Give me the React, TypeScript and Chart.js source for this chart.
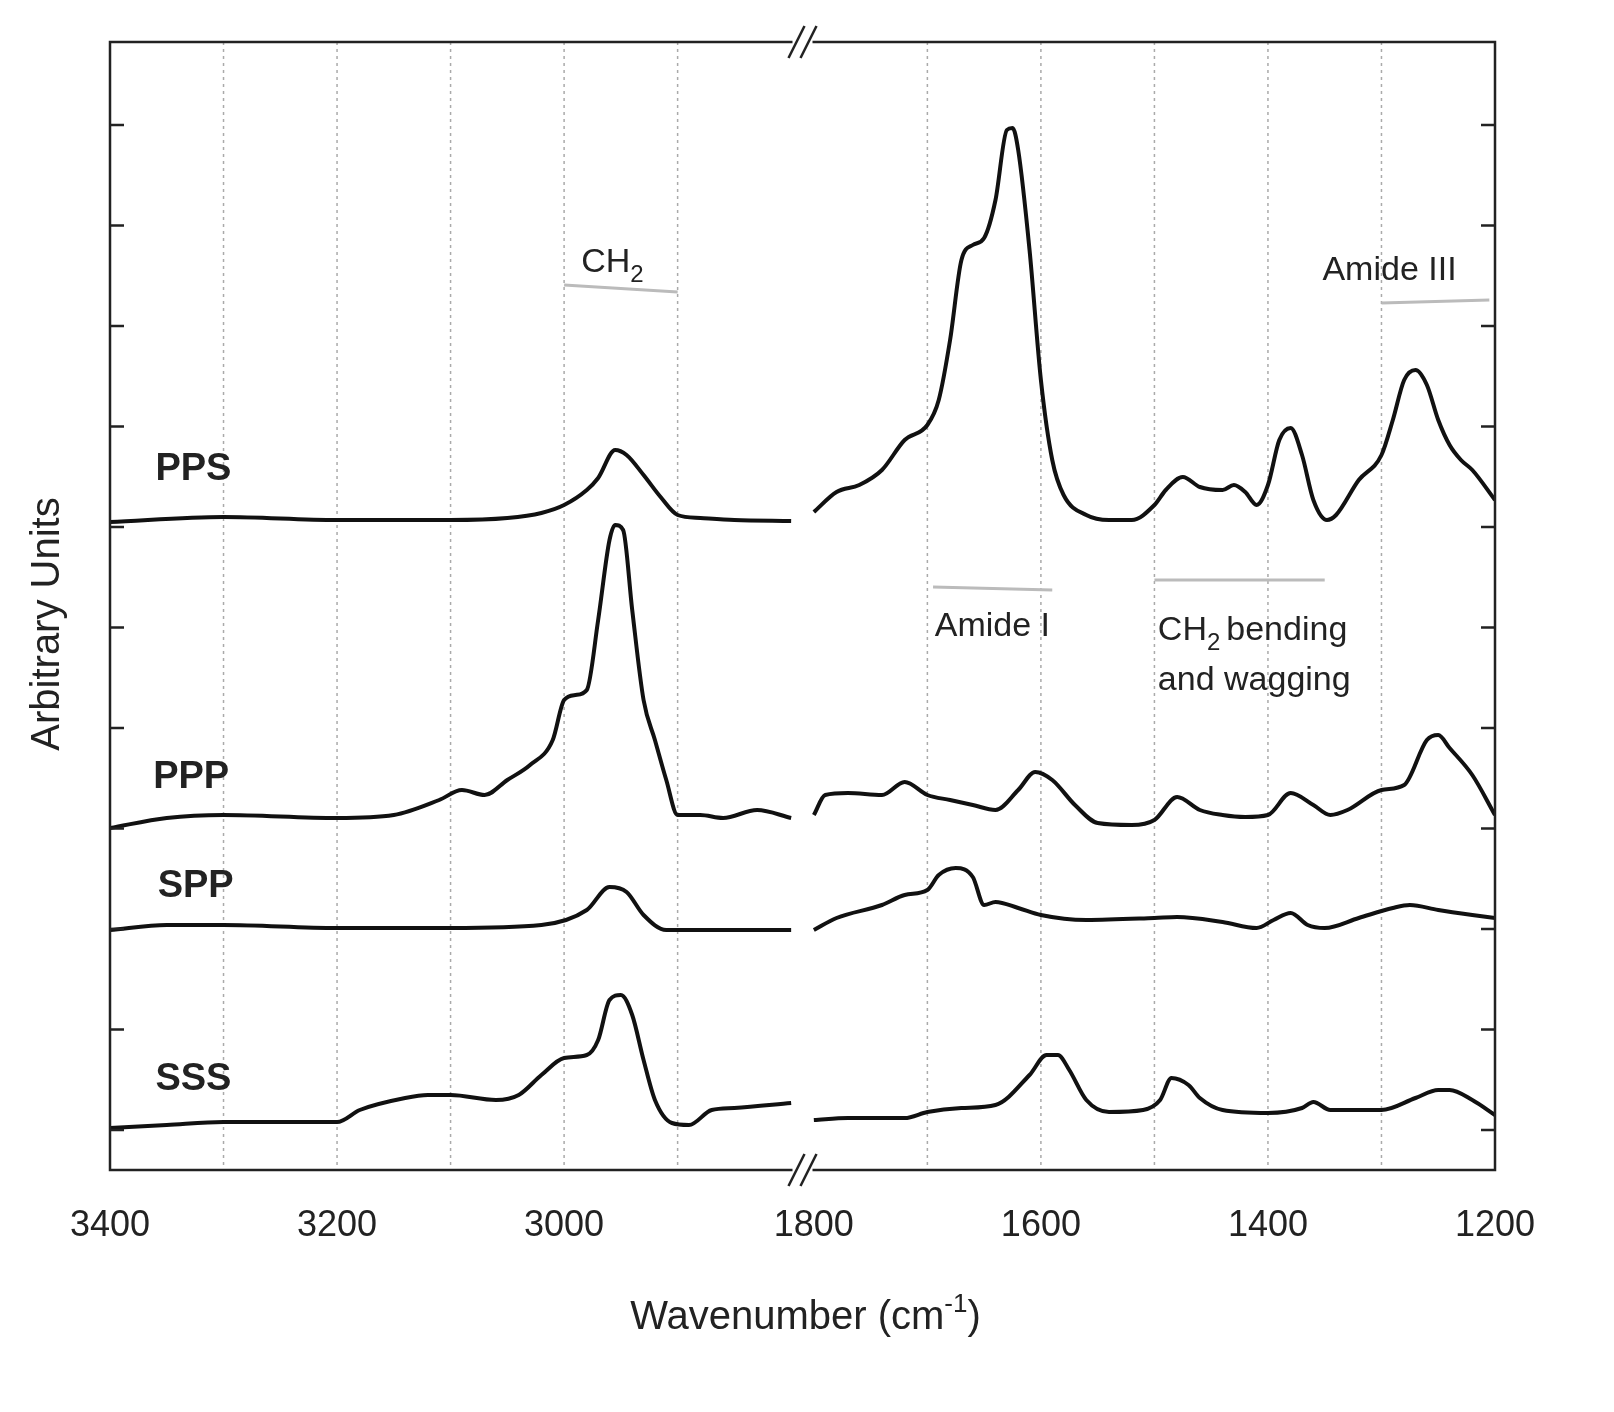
import React, { useEffect, useRef } from "react";
import { Chart, registerables } from "chart.js";
Chart.register(...registerables);

// wavenumbers (cm-1) and intensities (arbitrary units, offset traces)
const ppsLeftX = [3400,3300,3200,3100,3050,3020,3000,2980,2970,2955,2945,2930,2915,2900,2880,2850,2800];
const ppsLeftY = [522,517,520,520,518,513,505,490,478,450,455,475,497,515,518,520,521];
const ppsRightX = [1800,1780,1760,1740,1720,1700,1690,1680,1670,1660,1650,1640,1630,1625,1620,1610,1600,1590,1580,1560,1540,1520,1500,1490,1475,1460,1440,1430,1420,1410,1400,1390,1380,1370,1360,1348,1340,1320,1300,1290,1280,1270,1260,1250,1240,1230,1220,1200];
const ppsRightY = [512,492,485,470,440,425,400,340,260,245,238,200,130,128,150,250,380,460,495,515,520,520,505,490,477,487,490,485,492,505,485,440,428,455,500,520,515,480,455,420,380,370,385,420,445,460,470,500];
const pppLeftX = [3400,3350,3300,3200,3150,3110,3090,3070,3050,3030,3010,3000,2990,2980,2970,2960,2955,2948,2940,2930,2920,2910,2900,2880,2860,2830,2800];
const pppLeftY = [828,818,815,818,815,800,790,795,780,765,740,700,695,690,620,540,525,530,610,700,740,780,815,815,818,810,818];
const pppRightX = [1800,1790,1770,1740,1720,1700,1680,1660,1640,1620,1605,1590,1570,1550,1520,1500,1480,1460,1440,1420,1400,1380,1360,1345,1330,1300,1280,1260,1250,1240,1220,1200];
const pppRightY = [815,795,793,795,782,795,800,805,810,790,772,780,805,823,825,820,797,810,815,817,815,793,805,815,810,790,785,740,735,748,775,815];
const sppLeftX = [3400,3350,3300,3200,3100,3020,2980,2960,2945,2930,2910,2850,2800];
const sppLeftY = [930,925,925,928,928,925,910,887,892,915,930,930,930];
const sppRightX = [1800,1780,1740,1720,1700,1690,1675,1660,1650,1640,1620,1600,1560,1500,1480,1440,1410,1395,1380,1365,1350,1320,1290,1275,1250,1220,1200];
const sppRightY = [930,918,905,895,890,875,868,877,905,902,908,915,920,918,917,922,928,920,913,925,928,918,908,905,910,915,918];
const sssLeftX = [3400,3350,3300,3200,3180,3140,3120,3100,3060,3040,3020,3000,2980,2970,2960,2950,2940,2930,2920,2905,2890,2870,2850,2800];
const sssLeftY = [1128,1125,1122,1122,1110,1098,1095,1095,1100,1095,1075,1058,1055,1040,1000,995,1015,1060,1100,1123,1125,1110,1108,1103];
const sssRightX = [1800,1770,1720,1700,1670,1640,1610,1595,1585,1575,1560,1540,1510,1495,1485,1470,1460,1440,1400,1370,1360,1345,1300,1270,1250,1240,1220,1200];
const sssRightY = [1120,1118,1118,1112,1108,1105,1075,1055,1055,1070,1100,1112,1110,1100,1078,1085,1098,1110,1113,1108,1102,1110,1110,1098,1090,1090,1100,1115];

const xTickLabels = [3400, 3200, 3000, 1800, 1600, 1400, 1200];
const gridWavenumbers = [3300, 3200, 3100, 3000, 2900, 1700, 1600, 1500, 1400, 1300];
const sampleLabels = [
  { text: "PPS", wn: 3360, v: 700 },
  { text: "PPP", wn: 3362, v: 392 },
  { text: "SPP", wn: 3358, v: 283 },
  { text: "SSS", wn: 3360, v: 90 },
];

const Y_MAX = 1128;
const inv = (p: number) => 1170 - p;
const u = (wn: number) => (wn >= 2000 ? 3400 - wn : 620 + (1800 - wn));
const pts = (xs: number[], ys: number[]) => xs.map((x, i) => ({ x: u(x), y: inv(ys[i]) }));

export default function App() {
  const ref = useRef<HTMLCanvasElement>(null);
  useEffect(() => {
    const FONT = '"Liberation Sans", Arial, sans-serif';
    const deco = {
      id: "deco",
      beforeDatasetsDraw(chart: any) {
        const { ctx, chartArea: a, scales } = chart;
        const xs = scales.x;
        ctx.save();
        ctx.strokeStyle = "#aaa";
        ctx.lineWidth = 1.5;
        ctx.setLineDash([3, 4]);
        gridWavenumbers.forEach((w) => {
          const px = xs.getPixelForValue(u(w));
          ctx.beginPath(); ctx.moveTo(px, a.top); ctx.lineTo(px, a.bottom); ctx.stroke();
        });
        ctx.restore();
      },
      afterDatasetsDraw(chart: any) {
        const { ctx, chartArea: a, scales } = chart;
        const xs = scales.x, ys = scales.y;
        const X = (w: number) => xs.getPixelForValue(u(w));
        const Y = (v: number) => ys.getPixelForValue(v);
        ctx.save();
        ctx.strokeStyle = "#222"; ctx.lineWidth = 2.5;
        ctx.strokeRect(a.left, a.top, a.right - a.left, a.bottom - a.top);
        for (let v = 40; v <= Y_MAX; v += 100.5) {
          const py = Y(v);
          ctx.beginPath(); ctx.moveTo(a.left, py); ctx.lineTo(a.left + 14, py);
          ctx.moveTo(a.right, py); ctx.lineTo(a.right - 14, py); ctx.stroke();
        }
        const bx = (xs.getPixelForValue(600) + xs.getPixelForValue(620)) / 2;
        [a.top, a.bottom].forEach((py) => {
          ctx.fillStyle = "#fff";
          ctx.fillRect(bx - 10, py - 4, 20, 8);
          ctx.strokeStyle = "#222"; ctx.lineWidth = 2.5;
          [-6, 6].forEach((d) => {
            ctx.beginPath(); ctx.moveTo(bx + d - 8, py + 16); ctx.lineTo(bx + d + 8, py - 16); ctx.stroke();
          });
        });
        ctx.fillStyle = "#222";
        ctx.font = `36px ${FONT}`;
        ctx.textAlign = "center"; ctx.textBaseline = "top";
        xTickLabels.forEach((w) => ctx.fillText(String(w), X(w), a.bottom + 38));
        ctx.font = `40px ${FONT}`;
        const tw = ctx.measureText("Wavenumber (cm").width;
        const tw2 = ctx.measureText(")").width;
        ctx.font = `26px ${FONT}`;
        const sw = ctx.measureText("-1").width;
        const cx = (a.left + a.right) / 2 + 3;
        const sx = cx - (tw + sw + tw2) / 2;
        ctx.textAlign = "left";
        ctx.font = `40px ${FONT}`;
        ctx.fillText("Wavenumber (cm", sx, a.bottom + 128);
        ctx.font = `26px ${FONT}`;
        ctx.fillText("-1", sx + tw, a.bottom + 122);
        ctx.font = `40px ${FONT}`;
        ctx.fillText(")", sx + tw + sw, a.bottom + 128);
        ctx.save();
        ctx.translate(a.left - 62, (a.top + a.bottom) / 2 + 18);
        ctx.rotate(-Math.PI / 2);
        ctx.textAlign = "center"; ctx.textBaseline = "middle";
        ctx.fillText("Arbitrary Units", 0, 0);
        ctx.restore();
        ctx.font = `bold 38px ${FONT}`;
        ctx.textAlign = "left"; ctx.textBaseline = "middle";
        sampleLabels.forEach((s) => ctx.fillText(s.text, X(s.wn), Y(s.v)));
        const gline = (w1: number, v1: number, w2: number, v2: number) => {
          ctx.strokeStyle = "#bbb"; ctx.lineWidth = 3;
          ctx.beginPath(); ctx.moveTo(X(w1), Y(v1)); ctx.lineTo(X(w2), Y(v2)); ctx.stroke();
        };
        gline(3000, inv(285), 2900, inv(292));
        gline(1300, inv(303), 1205, inv(300));
        gline(1695, inv(587), 1590, inv(590));
        gline(1500, inv(580), 1350, inv(580));
        const sub = (main: string, s: string, rest: string, x: number, y: number) => {
          ctx.font = `34px ${FONT}`;
          ctx.textAlign = "left"; ctx.textBaseline = "alphabetic";
          ctx.fillText(main, x, y);
          const w = ctx.measureText(main).width;
          ctx.font = `24px ${FONT}`;
          ctx.fillText(s, x + w, y + 10);
          const w2 = ctx.measureText(s).width;
          ctx.font = `34px ${FONT}`;
          ctx.fillText(rest, x + w + w2 + (s ? 6 : 0), y);
        };
        ctx.fillStyle = "#222";
        sub("CH", "2", "", X(2985), Y(inv(272)));
        sub("", "", "Amide III", X(1352), Y(inv(280)));
        sub("", "", "Amide I", X(1690) - 4, Y(inv(636)));
        sub("CH", "2", "bending", X(1497), Y(inv(640)));
        sub("", "", "and wagging", X(1497), Y(inv(690)));
        ctx.restore();
      },
    };
    const ds = (xs: number[], ys: number[]) => ({
      data: pts(xs, ys), borderColor: "#111", borderWidth: 4, pointRadius: 0,
      tension: 0.4, cubicInterpolationMode: "monotone" as const, fill: false,
    });
    const chart = new Chart(ref.current!, {
      type: "line",
      data: {
        datasets: [
          ds(ppsLeftX, ppsLeftY), ds(ppsRightX, ppsRightY),
          ds(pppLeftX, pppLeftY), ds(pppRightX, pppRightY),
          ds(sppLeftX, sppLeftY), ds(sppRightX, sppRightY),
          ds(sssLeftX, sssLeftY), ds(sssRightX, sssRightY),
        ] as any,
      },
      options: {
        animation: false, responsive: false, maintainAspectRatio: false,
        layout: { padding: { left: 102, right: 111, top: 34, bottom: 234 } },
        plugins: { legend: { display: false }, tooltip: { enabled: false } },
        scales: {
          x: { type: "linear", min: 0, max: 1220, display: false },
          y: { type: "linear", min: 0, max: Y_MAX, display: false },
        },
      },
      plugins: [deco],
    });
    return () => chart.destroy();
  }, []);
  return <canvas ref={ref} width={1598} height={1396} style={{ display: "block" }} />;
}
